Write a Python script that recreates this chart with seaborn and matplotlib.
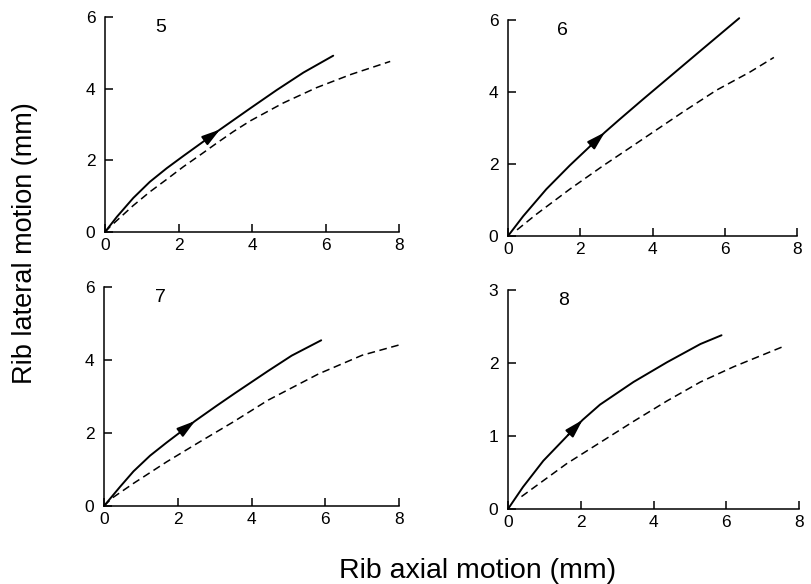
import numpy as np
import pandas as pd
import matplotlib
matplotlib.use("Agg")
import matplotlib.pyplot as plt
import seaborn as sns

# ---------------- data ----------------
panels = ["5", "6", "7", "8"]

# panel 5
p5_solid_x = [0.0, 0.32, 0.77, 1.22, 1.68, 2.13, 2.59, 3.13, 3.95, 4.67, 5.40, 6.21]
p5_solid_y = [0.0, 0.42, 0.95, 1.40, 1.78, 2.12, 2.46, 2.86, 3.45, 3.96, 4.45, 4.92]
p5_dash_x = [0.0, 0.14, 0.77, 1.22, 1.68, 2.13, 2.59, 3.04, 3.49, 3.95, 4.85, 5.76, 6.70, 7.76]
p5_dash_y = [0.0, 0.15, 0.74, 1.12, 1.47, 1.82, 2.15, 2.48, 2.80, 3.10, 3.60, 4.03, 4.40, 4.76]

# panel 6
p6_solid_x = [0.0, 0.42, 1.06, 1.71, 2.68, 3.09, 3.74, 4.39, 5.31, 6.40]
p6_solid_y = [0.0, 0.55, 1.30, 1.96, 2.88, 3.24, 3.80, 4.35, 5.13, 6.05]
p6_dash_x = [0.25, 0.78, 1.71, 2.63, 3.55, 4.85, 5.77, 6.69, 7.36]
p6_dash_y = [0.17, 0.60, 1.30, 1.95, 2.57, 3.45, 4.05, 4.55, 4.96]

# panel 7
p7_solid_x = [0.0, 0.43, 0.80, 1.25, 1.70, 2.47, 3.06, 3.55, 4.45, 5.09, 5.89]
p7_solid_y = [0.0, 0.52, 0.95, 1.38, 1.74, 2.33, 2.75, 3.09, 3.70, 4.12, 4.54]
p7_dash_x = [0.0, 0.21, 0.80, 1.70, 2.60, 3.50, 4.45, 5.82, 7.00, 8.03]
p7_dash_y = [0.0, 0.21, 0.62, 1.21, 1.76, 2.30, 2.90, 3.62, 4.13, 4.42]

# panel 8
p8_solid_x = [0.0, 0.41, 0.97, 2.05, 2.53, 3.45, 4.37, 5.29, 5.87]
p8_solid_y = [0.0, 0.30, 0.66, 1.22, 1.43, 1.74, 2.01, 2.26, 2.38]
p8_dash_x = [0.37, 1.61, 2.53, 3.45, 4.37, 5.29, 6.21, 7.54]
p8_dash_y = [0.17, 0.62, 0.91, 1.20, 1.48, 1.74, 1.95, 2.22]

# arrow tip positions along the solid curve (x value)
arrow_tip_x = [3.13, 2.68, 2.47, 2.05]

x_ticks = [0, 2, 4, 6, 8]
y_ticks_6 = [0, 2, 4, 6]
y_ticks_3 = [0, 1, 2, 3]
y_max = [6, 6, 6, 3]

solid_x = [p5_solid_x, p6_solid_x, p7_solid_x, p8_solid_x]
solid_y = [p5_solid_y, p6_solid_y, p7_solid_y, p8_solid_y]
dash_x = [p5_dash_x, p6_dash_x, p7_dash_x, p8_dash_x]
dash_y = [p5_dash_y, p6_dash_y, p7_dash_y, p8_dash_y]

# ---------------- style ----------------
sns.set_style("ticks")
plt.rcParams["font.family"] = ["Liberation Sans", "DejaVu Sans"]

W, H = 811, 584
fig = plt.figure(figsize=(W / 100, H / 100), dpi=100)

# axes boxes in pixels: left, right, top, bottom
boxes = [
    (105, 399, 17, 232),
    (508, 797, 20, 236),
    (104, 399, 287, 506),
    (508, 799, 290, 509),
]

for i, name in enumerate(panels):
    l, r, t, b = boxes[i]
    ax = fig.add_axes([l / W, 1 - b / H, (r - l) / W, (b - t) / H])

    df_s = pd.DataFrame({"x": solid_x[i], "y": solid_y[i]})
    df_d = pd.DataFrame({"x": dash_x[i], "y": dash_y[i]})
    sns.lineplot(data=df_s, x="x", y="y", ax=ax, color="black", lw=1.4,
                 sort=False, estimator=None)
    sns.lineplot(data=df_d, x="x", y="y", ax=ax, color="black", lw=1.1,
                 sort=False, estimator=None, dashes=False,
                 linestyle=(0, (5, 3)))
    for ln in ax.lines:
        ln.set_clip_on(False)
        ln.set_solid_joinstyle("round")

    # arrow head on solid curve
    xs = np.array(solid_x[i])
    ys = np.array(solid_y[i])
    tx = arrow_tip_x[i]
    ty = np.interp(tx, xs, ys)
    sx = tx - 0.4
    sy = np.interp(sx, xs, ys)
    ax.annotate("", xy=(tx, ty), xytext=(sx, sy),
                arrowprops=dict(arrowstyle="-|>,head_length=1.1,head_width=0.32",
                                color="black", lw=1.4, shrinkA=0, shrinkB=0))

    ax.set_xlim(0, 8)
    ax.set_ylim(0, y_max[i])
    ax.set_xticks(x_ticks)
    ax.set_yticks(y_ticks_6 if y_max[i] == 6 else y_ticks_3)
    ax.set_xlabel("")
    ax.set_ylabel("")
    ax.tick_params(axis="both", direction="in", length=6, width=1.1,
                   labelsize=12.5, color="black", labelcolor="black")
    ax.tick_params(axis="x", pad=4)
    ax.tick_params(axis="y", pad=7)
    for sp in ["top", "right"]:
        ax.spines[sp].set_visible(False)
    for sp in ["left", "bottom"]:
        ax.spines[sp].set_linewidth(1.1)
        ax.spines[sp].set_color("black")
    ax.patch.set_alpha(0)

    ax.text(0.19, 0.95, name, transform=ax.transAxes, fontsize=14,
            ha="center", va="center", color="black")

fig.text(478 / W, 1 - 578 / H, "Rib axial motion (mm)", ha="center",
         va="baseline", fontsize=20.5, color="black")
fig.text(25 / W, 1 - 243 / H, "Rib lateral motion (mm)", ha="center",
         va="center", rotation=90, fontsize=19.5, color="black")

fig.savefig("out.png", dpi=100)
